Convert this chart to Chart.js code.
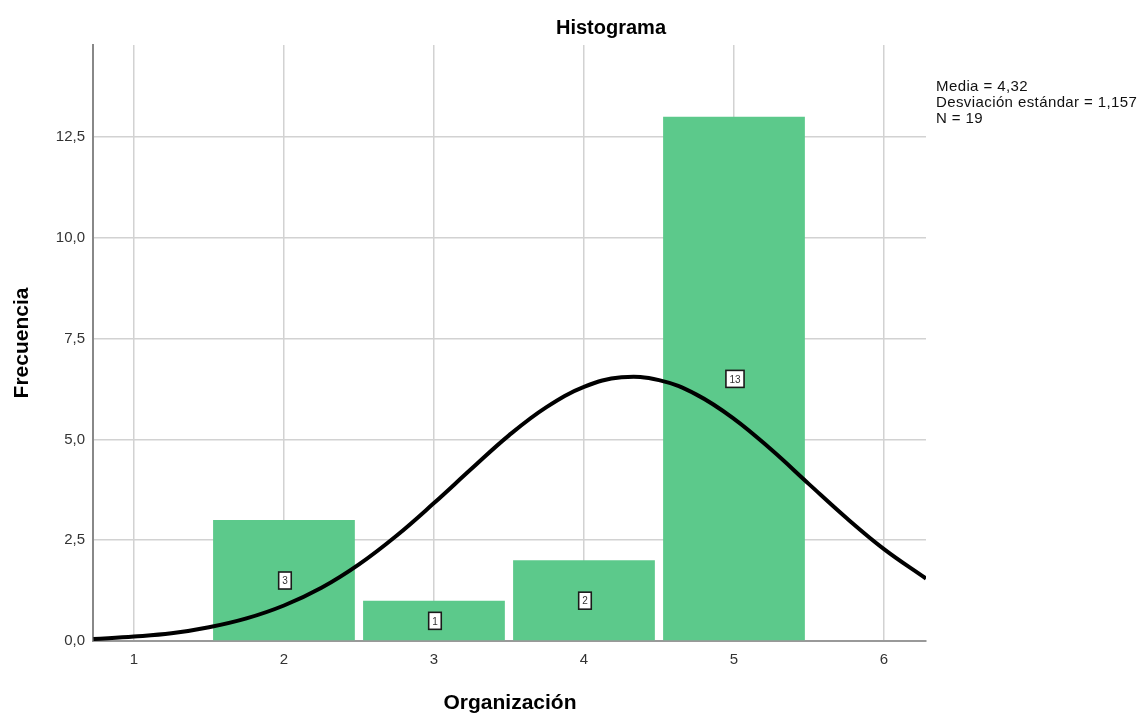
<!DOCTYPE html>
<html>
<head>
<meta charset="utf-8">
<script src="https://cdn.jsdelivr.net/npm/chart.js@4.4.1/dist/chart.umd.min.js"></script>
<style>
  html, body { margin: 0; padding: 0; background: #fff; }
  #wrap { width: 1143px; height: 715px; }
</style>
</head>
<body>
<div id="wrap"><canvas id="hist"></canvas></div>
<script>
// Histogram data (Organización)
const binCenters = [2, 3, 4, 5];
const binCounts = [3, 1, 2, 13];

// Normal curve
const curveX = [0.73, 1.0, 1.25, 1.5, 1.75, 2.0, 2.25, 2.5, 2.75, 3.0, 3.25, 3.5, 3.75,
                4.0, 4.25, 4.5, 4.75, 5.0, 5.25, 5.5, 5.75, 6.0, 6.28];
const curveY = [0.05, 0.11, 0.19, 0.34, 0.56, 0.88, 1.32, 1.90, 2.61, 3.42, 4.27, 5.10, 5.80,
                6.30, 6.54, 6.47, 6.11, 5.51, 4.74, 3.89, 3.05, 2.28, 1.55];

// Ticks
const xTicks = [1, 2, 3, 4, 5, 6];
const yTicks = [0, 2.5, 5, 7.5, 10, 12.5];
const yTickLabels = ["0,0", "2,5", "5,0", "7,5", "10,0", "12,5"];

const statsLines = ["Media = 4,32", "Desviación estándar = 1,157", "N = 19"];

const FONT = "'Liberation Sans', Arial, sans-serif";

// titles, stats text and count boxes
const decorPlugin = {
    id: "decor",
    afterDatasetsDraw(chart) {
        const ctx = chart.ctx;
        ctx.save();

        // count boxes in the middle of each bar (dataset 1 = bars)
        const meta = chart.getDatasetMeta(1);
        ctx.font = "10px " + FONT;
        ctx.textAlign = "center";
        ctx.textBaseline = "middle";
        meta.data.forEach((bar, i) => {
            const txt = String(binCounts[i]);
            const cx = bar.x + 1;
            const cy = chart.scales.y.getPixelForValue(binCounts[i] / 2);
            const w = ctx.measureText(txt).width + 7;
            const h = 17;
            ctx.fillStyle = "#fff";
            ctx.fillRect(cx - w / 2, cy - h / 2, w, h);
            ctx.strokeStyle = "#1a1a1a";
            ctx.lineWidth = 1.6;
            ctx.strokeRect(cx - w / 2, cy - h / 2, w, h);
            ctx.fillStyle = "#333";
            ctx.fillText(txt, cx, cy + 1);
        });
        ctx.restore();
    },
    afterDraw(chart) {
        const ctx = chart.ctx;
        ctx.save();
        ctx.fillStyle = "#000";
        ctx.textBaseline = "middle";

        ctx.font = "bold 20px " + FONT;
        ctx.textAlign = "center";
        ctx.fillText("Histograma", 611, 28);

        ctx.font = "bold 21px " + FONT;
        ctx.fillText("Organización", 510, 703);

        ctx.save();
        ctx.translate(22, 343);
        ctx.rotate(-Math.PI / 2);
        ctx.fillText("Frecuencia", 0, 0);
        ctx.restore();

        ctx.font = "15px " + FONT;
        ctx.textAlign = "left";
        ctx.fillStyle = "#111";
        ctx.letterSpacing = "0.4px";
        statsLines.forEach((line, i) => {
            ctx.fillText(line, 936, 87 + i * 16);
        });
        ctx.restore();
    }
};

new Chart(document.getElementById("hist"), {
    type: "bar",
    data: {
        datasets: [
            {
                type: "line",
                data: curveX.map((x, i) => ({ x: x, y: curveY[i] })),
                borderColor: "#000",
                borderWidth: 4,
                pointRadius: 0,
                tension: 0.4,
                fill: false,
                order: 0
            },
            {
                type: "bar",
                data: binCenters.map((x, i) => ({ x: x, y: binCounts[i] })),
                backgroundColor: "#5cc98b",
                borderWidth: 0,
                barPercentage: 0.945,
                categoryPercentage: 1,
                order: 1
            }
        ]
    },
    plugins: [decorPlugin],
    options: {
        responsive: true,
        maintainAspectRatio: false,
        animation: false,
        layout: { padding: { left: 0, right: 217, top: 45, bottom: 0 } },
        plugins: {
            legend: { display: false },
            tooltip: { enabled: false },
            title: { display: false }
        },
        scales: {
            x: {
                type: "linear",
                min: 0.727,
                max: 6.28,
                offset: false,
                afterFit(scale) { scale.height = 74; },
                afterBuildTicks(scale) { scale.ticks = xTicks.map(v => ({ value: v })); },
                grid: {
                    offset: false,
                    color: "#d2d2d2",
                    lineWidth: 1.5,
                    drawTicks: false
                },
                border: { color: "#999", width: 2 },
                ticks: {
                    padding: 10,
                    color: "#333",
                    font: { family: FONT, size: 15 },
                    callback: v => String(v)
                }
            },
            y: {
                min: 0,
                max: 14.78,
                afterFit(scale) { scale.width = 93; },
                afterBuildTicks(scale) { scale.ticks = yTicks.map(v => ({ value: v })); },
                grid: {
                    color: "#d2d2d2",
                    lineWidth: 1.5,
                    drawTicks: false
                },
                border: { color: "#888", width: 2 },
                ticks: {
                    padding: 8,
                    color: "#333",
                    font: { family: FONT, size: 15 },
                    callback: (v) => yTickLabels[yTicks.indexOf(v)]
                }
            }
        }
    }
});
</script>
</body>
</html>
